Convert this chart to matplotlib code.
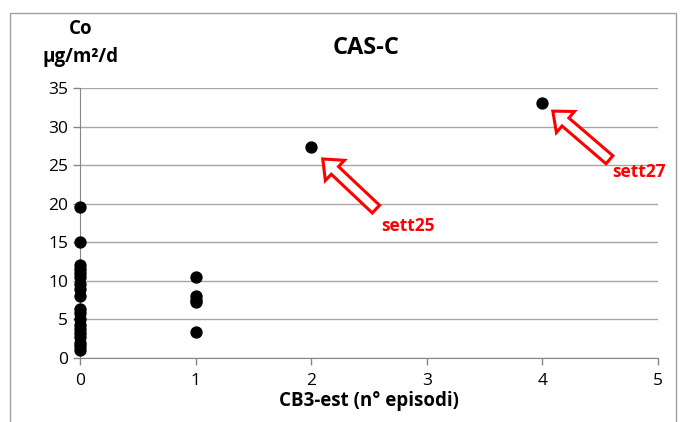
import matplotlib
matplotlib.use("Agg")
import matplotlib.pyplot as plt
from matplotlib.patches import Rectangle

# Co deposition vs number of CB3-est episodes
episodes_0 = [0] * 19
co_0 = [19.6, 15.1, 12.0, 11.5, 11.0, 10.5, 9.6, 9.0, 8.0,
        6.3, 5.8, 5.0, 4.3, 3.8, 3.3, 2.7, 2.0, 1.5, 1.0]
episodes_1 = [1] * 5
co_1 = [10.5, 8.0, 7.5, 7.2, 3.4]
episodes_hi = [2, 4]
co_hi = [27.4, 33.0]
labels_hi = ["sett25", "sett27"]

x_ticks = [0, 1, 2, 3, 4, 5]
y_ticks = [0, 5, 10, 15, 20, 25, 30, 35]

# callout layout (offsets from each highlighted point, in data units)
tip_offsets = [(0.10, -1.6), (0.09, -1.0)]
tail_offsets = [(0.56, -8.1), (0.58, -7.3)]
label_offsets = [(0.61, -10.3), (0.60, -8.9)]

plt.rcParams['font.family'] = ['Open Sans', 'DejaVu Sans']

fig = plt.figure(figsize=(6.8, 4.22), dpi=100)
ax = fig.add_axes([80 / 680, 1 - 358 / 422, 578 / 680, 270 / 422])

grey = "#868686"
xs = episodes_0 + episodes_1 + episodes_hi
ys = co_0 + co_1 + co_hi
ax.scatter(xs, ys, s=62, color="black", zorder=3, clip_on=False)

ax.set_xlim(0, 5)
ax.set_ylim(0, 35)
ax.set_xticks(x_ticks)
ax.set_yticks(y_ticks)
ax.tick_params(axis="both", colors=grey, labelcolor="black", labelsize=12.5,
               length=5, width=1)
ax.tick_params(axis="x", pad=6)
ax.yaxis.grid(True, color="#a6a6a6", lw=1)
ax.set_axisbelow(True)
for side in ["top", "right"]:
    ax.spines[side].set_visible(False)
for side in ["left", "bottom"]:
    ax.spines[side].set_color(grey)

ax.set_xlabel("CB3-est (n° episodi)", fontsize=13.5, fontweight="bold", labelpad=1)
fig.text(366 / 680, 1 - 48 / 422, "CAS-C", fontsize=17, fontweight="bold",
         ha="center", va="center")
fig.text(81 / 680, 1 - 43 / 422, "Co\nµg/m²/d", fontsize=13.5, fontweight="bold",
         ha="center", va="center", linespacing=1.5)

# open red arrows pointing at the highlighted sampling weeks
arrow_style = "simple,head_length=0.6,head_width=1.0,tail_width=0.38"
for px, py, lab, tip_o, tail_o, lab_o in zip(episodes_hi, co_hi, labels_hi,
                                             tip_offsets, tail_offsets, label_offsets):
    tip = (px + tip_o[0], py + tip_o[1])
    tail = (px + tail_o[0], py + tail_o[1])
    ax.annotate("", xy=tip, xytext=tail,
                arrowprops=dict(arrowstyle=arrow_style, fc="white", ec="#ff0000",
                                lw=2.2, mutation_scale=20, shrinkA=0, shrinkB=0,
                                joinstyle="miter"))
    ax.text(px + lab_o[0], py + lab_o[1], lab, color="#ff0000", fontsize=12.5,
            fontweight="bold", ha="left", va="center")

# chart frame
fig.patches.append(Rectangle((10 / 680, -0.05), 666 / 680, 1.05 - 13 / 422,
                             transform=fig.transFigure, fill=False,
                             ec="#a0a0a0", lw=1))

fig.savefig("out.png", dpi=100)
